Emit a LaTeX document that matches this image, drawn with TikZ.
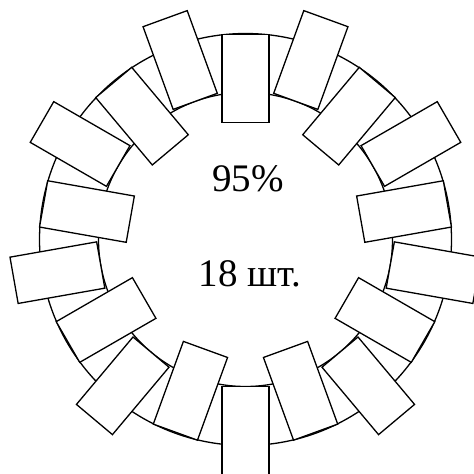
\documentclass[tikz,border=0pt]{standalone}
\usepackage{fontspec}
\setmainfont{Liberation Serif}
\begin{document}
\begin{tikzpicture}[x=1pt,y=1pt,line width=1.3pt,
  bar/.style={draw=black,fill=white,line join=miter},
  ring/.style={draw=black},
  label/.style={anchor=base,inner sep=0pt,font=\fontsize{39}{46}\selectfont}]
\useasboundingbox (0,0) rectangle (474,474);
\coordinate (C) at (245.5,234.5);
\draw[ring] (C) circle (206);
\draw[ring] (C) circle (147);
\foreach \i in {0,...,17}{
  \pgfmathsetmacro\ang{90-20*\i}
  \pgfmathsetmacro\rin{ifthenelse(mod(\i,2)==0,117,147)}
  \pgfmathsetmacro\rout{\rin+88}
  \draw[bar,shift={(C)},rotate=\ang] (\rin,-23.5) rectangle (\rout,23.5);
}
\node[label] (pct) at (248,282) {95\%};
\node[label] (cnt) at (250,187) {18 шт.};
\end{tikzpicture}
\end{document}
